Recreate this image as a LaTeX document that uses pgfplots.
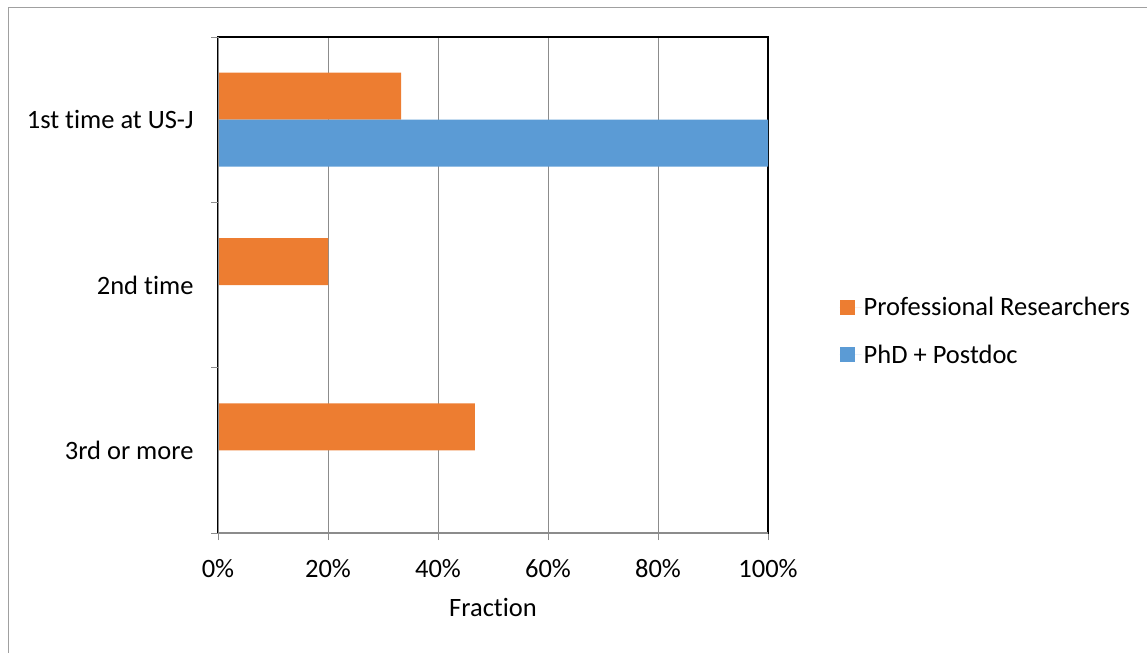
\documentclass[border=0pt]{standalone}
\usepackage{fontspec}
\setmainfont[Ligatures=NoCommon]{Carlito}
\usepackage{pgfplots}
\pgfplotsset{compat=1.18}
\definecolor{orng}{HTML}{ED7D31}
\definecolor{blu}{HTML}{5B9BD5}
\definecolor{gridc}{HTML}{8C8C8C}
\definecolor{framec}{HTML}{A0A0A0}
\begin{document}
\begin{tikzpicture}
\useasboundingbox (0,0) rectangle (1147pt,-653pt);
\draw[color=framec, line width=1pt] (8pt,-653pt) -- (8pt,-7pt) -- (1147pt,-7pt);
\begin{axis}[
  at={(218pt,-533pt)}, anchor=south west,
  scale only axis, width=550pt, height=496pt,
  xmin=0, xmax=100, ymin=-0.5, ymax=2.5,
  xbar, bar width=47pt,
  font=\fontsize{26.5}{32}\selectfont,
  xtick={0,20,40,60,80,100},
  xticklabels={0\%,20\%,40\%,60\%,80\%,100\%},
  ytick={0,1,2},
  yticklabels={3rd or more,2nd time,1st time at US-J},
  xtick pos=lower, ytick pos=left,
  tick align=outside,
  major tick length=7pt,
  xtick style={draw=gridc, line width=1pt},
  ytick style={draw=none},
  extra y ticks={-0.5,0.5,1.5,2.5},
  extra y tick labels={},
  extra y tick style={ytick style={draw=gridc, line width=1pt}},
  xmajorgrids, grid style={draw=gridc, line width=1pt},
  axis line style={draw=black, line width=1.5pt},
  xticklabel style={yshift=-16pt},
  yticklabel style={xshift=-14pt},
  xlabel={Fraction},
  xlabel style={yshift=-14pt},
  legend style={at={(1.13,0.407)}, anchor=west, draw=none, fill=none,
    font=\fontsize{26.5}{32}\selectfont, row sep=23.5pt, inner sep=0pt},
  legend cell align=left,
]
\addplot[fill=orng, draw=none, bar shift=23.5pt,
  legend image code/.code={\fill[orng] (0pt,-7.5pt) rectangle (15pt,7.5pt); \path (0pt,0pt) -- (22pt,0pt);}]
  coordinates {(33.3,2) (20,1) (46.7,0)};
\addlegendentry{Professional Researchers}
\addplot[fill=blu, draw=none, bar shift=-23.5pt,
  legend image code/.code={\fill[blu] (0pt,-7.5pt) rectangle (15pt,7.5pt); \path (0pt,0pt) -- (22pt,0pt);}]
  coordinates {(100,2) (0,1) (0,0)};
\addlegendentry{PhD + Postdoc}
\draw[draw=gridc, line width=1.5pt] (rel axis cs:0,1) -- (rel axis cs:0,0) -- (rel axis cs:1,0);
\end{axis}
\end{tikzpicture}
\end{document}
